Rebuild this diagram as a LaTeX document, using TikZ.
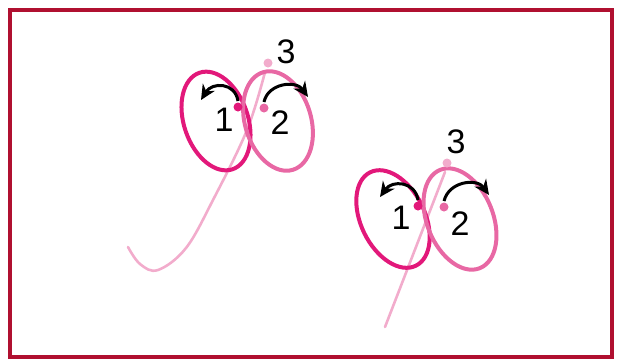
\documentclass[tikz,border=0pt]{standalone}
\usepackage{fontspec}
\setmainfont{Liberation Sans}
\usepackage{xcolor}
\usetikzlibrary{arrows.meta}
\definecolor{framered}{RGB}{176,16,48}
\definecolor{loopdark}{RGB}{226,24,122}
\definecolor{looplight}{RGB}{232,104,164}
\definecolor{strokepink}{RGB}{242,172,204}

\begin{document}
\begin{tikzpicture}[x=1pt,y=-1pt,
  num/.style={font=\fontsize{34}{34}\selectfont,inner sep=0pt},
  dotdark/.style={circle,fill=loopdark,inner sep=0pt,minimum size=9pt},
  dotlight/.style={circle,fill=looplight,inner sep=0pt,minimum size=9pt},
  dotpale/.style={circle,fill=strokepink,inner sep=0pt,minimum size=9pt},
  loopa/.style={draw=loopdark,line width=4pt},
  loopb/.style={draw=looplight,line width=4pt},
  pen/.style={draw=strokepink,line width=2.6pt,line cap=round},
  turn/.style={draw=black,line width=3pt,-{Stealth[length=15pt,width=14pt]}}]
\useasboundingbox (0,0) rectangle (623,360);
\draw[framered,line width=4.5pt] (10,10) rectangle (612,357);

% upper letter
\draw[pen] plot[smooth,tension=0.6] coordinates {(265,72) (247,130) (213,200) (186,248) (158,270) (140,264) (128,247)};
\draw[loopa,rotate around={19:(216,121)}] (216,121) ellipse (32 and 51);
\draw[loopb,rotate around={17:(278,121)}] (278,121) ellipse (33 and 51);
\node[dotdark] (p1) at (238,107) {};
\node[dotlight] (p2) at (264,108) {};
\node[dotpale] (p3) at (268,63) {};
\node[num] (n1) at (224,120) {1};
\node[num] (n2) at (280,123) {2};
\node[num] (n3) at (286,52) {3};
\coordinate (a1) at (238,101);
\coordinate (b1) at (201,100);
\coordinate (a2) at (264,102);
\coordinate (b2) at (308,97);
\draw[turn] (a1) .. controls (235,82) and (212,82) .. (b1);
\draw[turn] (a2) .. controls (268,83) and (296,80) .. (b2);

% lower letter
\coordinate (s1) at (445,172);
\coordinate (s2) at (385,327);
\draw[pen] (s1) -- (s2);
\draw[loopa,rotate around={26:(393,219)}] (393,219) ellipse (32 and 52);
\draw[loopb,rotate around={22:(460,219)}] (460,219) ellipse (33 and 53);
\node[dotdark] (q1) at (418,206) {};
\node[dotlight] (q2) at (444,207) {};
\node[dotpale] (q3) at (447,163) {};
\node[num] (m1) at (401,218) {1};
\node[num] (m2) at (460,224) {2};
\node[num] (m3) at (456,142) {3};
\coordinate (c1) at (418,200);
\coordinate (d1) at (380,197);
\coordinate (c2) at (444,201);
\coordinate (d2) at (489,195);
\draw[turn] (c1) .. controls (415,181) and (392,180) .. (d1);
\draw[turn] (c2) .. controls (449,181) and (477,178) .. (d2);
\end{tikzpicture}
\end{document}
